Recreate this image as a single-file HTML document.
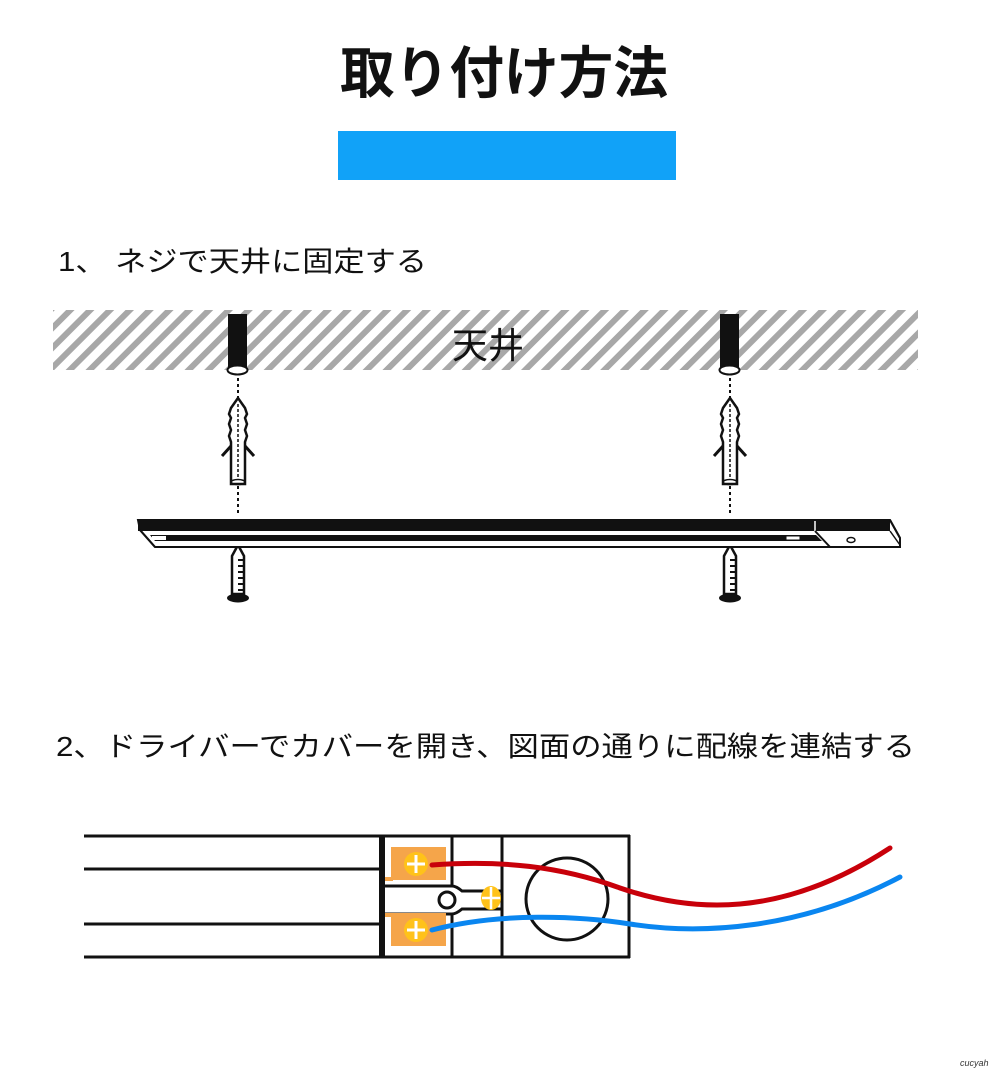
<!DOCTYPE html>
<html><head><meta charset="utf-8"><style>
html,body{margin:0;padding:0;background:#fff;}
svg{display:block;}
text{font-family:"Liberation Sans","Noto Sans CJK JP",sans-serif;}
</style></head><body>
<svg width="1000" height="1072" viewBox="0 0 1000 1072" xmlns="http://www.w3.org/2000/svg">
<defs>
<pattern id="h" patternUnits="userSpaceOnUse" width="14" height="14" patternTransform="rotate(45)">
<rect width="14" height="14" fill="#fff"/>
<rect width="6" height="14" fill="#a8a8a8"/>
</pattern>
<g id="anc">
<rect x="228" y="314" width="19" height="56" fill="#111"/>
<ellipse cx="237.5" cy="370" rx="10" ry="4.5" fill="#fff" stroke="#111" stroke-width="2"/>
<line x1="238" y1="378" x2="238" y2="398" stroke="#111" stroke-width="2" stroke-dasharray="3,3"/>
<path d="M238,398 L231,408 L229,414 L231,418 L229,424 L231,430 L229,436 L231,442 L231,484 L245,484 L245,442 L247,436 L245,430 L247,424 L245,418 L247,414 L245,408 Z" fill="#fff" stroke="#111" stroke-width="2.5"/>
<path d="M231,446 L222,456 M245,446 L254,456" stroke="#111" stroke-width="3" fill="none"/>
<ellipse cx="238" cy="482" rx="7" ry="2.5" fill="none" stroke="#111" stroke-width="1.5"/>
<line x1="238" y1="404" x2="238" y2="480" stroke="#111" stroke-width="1.5" stroke-dasharray="3,2"/>
<line x1="238" y1="486" x2="238" y2="516" stroke="#111" stroke-width="2" stroke-dasharray="3,3"/>
<path d="M238,545 L232,556 L232,594 L244,594 L244,556 Z" fill="#fff" stroke="#111" stroke-width="2.5"/>
<path d="M238,560 h5 M238,566 h5 M238,572 h5 M238,578 h5 M238,584 h5 M238,590 h5" stroke="#111" stroke-width="2"/>
<ellipse cx="238" cy="598" rx="11" ry="4.5" fill="#111"/>
</g>
</defs>

<text x="504" y="93" text-anchor="middle" font-size="56" font-weight="bold" fill="#111" textLength="328" lengthAdjust="spacingAndGlyphs">取り付け方法</text>
<rect x="338" y="131" width="338" height="49" fill="#11a2f8"/>

<text x="58" y="271" font-size="28" fill="#111" textLength="369" lengthAdjust="spacingAndGlyphs">1、 ネジで天井に固定する</text>

<rect x="53" y="310" width="865" height="60" fill="url(#h)"/>
<text x="488" y="358" text-anchor="middle" font-size="36" fill="#111">天井</text>

<use href="#anc"/>
<use href="#anc" transform="translate(492,0)"/>

<!-- bar -->
<path d="M138,520 L890,520 L900,538 L900,547 L155,547 L140,530 Z" fill="#fff" stroke="#111" stroke-width="2"/>
<rect x="138" y="520" width="752" height="11" fill="#111"/>
<path d="M150,535 L816,535 L822,541 L155,541 Z" fill="#111"/>
<rect x="786" y="536" width="14" height="4" fill="#fff" stroke="#111" stroke-width="1"/>
<line x1="815" y1="521" x2="815" y2="531" stroke="#fff" stroke-width="1.5"/>
<line x1="815" y1="531" x2="830" y2="547" stroke="#111" stroke-width="2"/>
<line x1="890" y1="520" x2="900" y2="538" stroke="#111" stroke-width="2"/>
<line x1="890" y1="531" x2="900" y2="545" stroke="#111" stroke-width="1.5"/>
<ellipse cx="851" cy="540" rx="4" ry="2.5" fill="none" stroke="#111" stroke-width="1.5"/>
<path d="M140,530 L155,547" stroke="#111" stroke-width="2"/>
<rect x="152" y="536" width="14" height="4" fill="#fff"/>

<text x="56" y="756" font-size="28" fill="#111" textLength="859" lengthAdjust="spacingAndGlyphs">2、ドライバーでカバーを開き、図面の通りに配線を連結する</text>

<!-- wiring diagram -->
<g stroke="#111" stroke-width="3" fill="none">
<line x1="84" y1="836" x2="630" y2="836"/>
<line x1="84" y1="869" x2="382" y2="869"/>
<line x1="84" y1="924" x2="382" y2="924"/>
<line x1="84" y1="957" x2="630" y2="957"/>
<line x1="629" y1="835" x2="629" y2="958"/>
<line x1="452" y1="836" x2="452" y2="885"/>
<line x1="452" y1="915" x2="452" y2="957"/>
<line x1="502" y1="836" x2="502" y2="957"/>
<path d="M383,886 L452,886 Q456,886 462,891 L502,891"/>
<path d="M383,914 L452,914 Q456,914 462,909 L502,909"/>
</g>
<rect x="379" y="836" width="6" height="121" fill="#111"/>
<rect x="391" y="847" width="55" height="33" fill="#f5a54a"/>
<rect x="385" y="877" width="8" height="4" fill="#f5a54a"/>
<rect x="391" y="913" width="55" height="33" fill="#f5a54a"/>
<rect x="385" y="913" width="8" height="4" fill="#f5a54a"/>
<circle cx="416" cy="864" r="12" fill="#ffc21a"/>
<path d="M416,855 V873 M407,864 H425" stroke="#fff" stroke-width="3"/>
<circle cx="416" cy="930" r="12" fill="#ffc21a"/>
<path d="M416,921 V939 M407,930 H425" stroke="#fff" stroke-width="3"/>
<circle cx="447" cy="900" r="8" fill="#fff" stroke="#111" stroke-width="3"/>
<ellipse cx="491" cy="898" rx="10" ry="12" fill="#ffc21a"/>
<path d="M491,887 V909 M482,898 H500" stroke="#fff" stroke-width="2.5"/>
<circle cx="567" cy="899" r="41" fill="none" stroke="#111" stroke-width="3"/>
<path d="M432,865 C500,860 560,866 620,888 C690,912 780,920 890,848" stroke="#c8000a" stroke-width="5" fill="none" stroke-linecap="round"/>
<path d="M432,930 C500,912 580,916 630,924 C700,935 800,930 900,877" stroke="#0a86f0" stroke-width="5" fill="none" stroke-linecap="round"/>
<text x="960" y="1066" font-size="9" font-style="italic" fill="#333" font-family="Liberation Serif, serif">cucyah</text>
</svg>
</body></html>
